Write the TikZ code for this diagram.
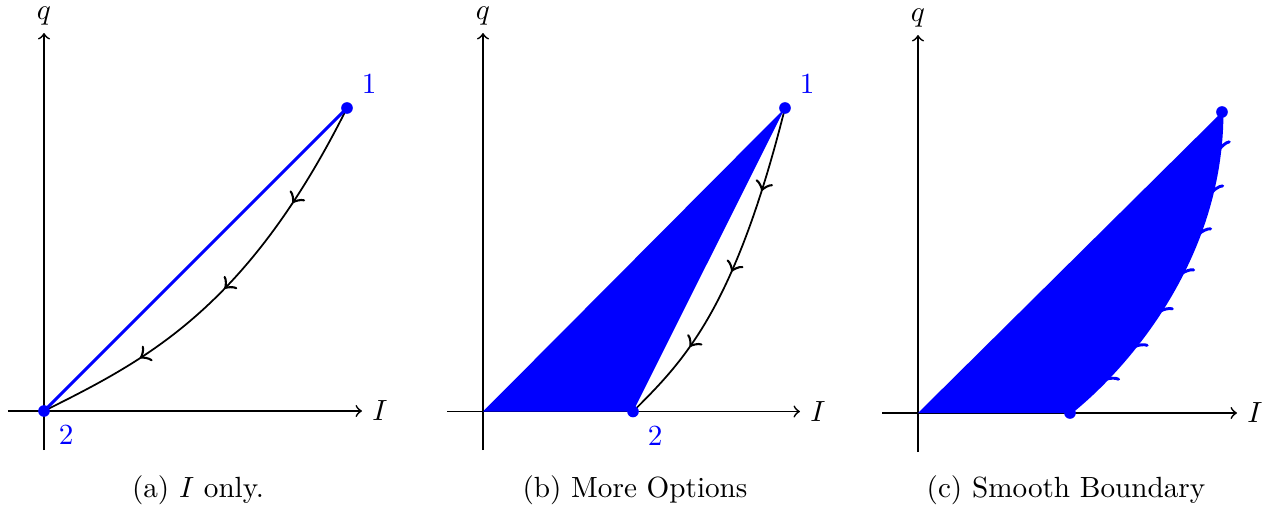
\documentclass[tikz,border=0pt]{standalone}
\usetikzlibrary{decorations.markings}
\begin{document}
\begin{tikzpicture}[x=0.3425pt,y=-0.3425pt,
  axis/.style={->, line width=0.6pt},
  flow/.style={line width=0.6pt, postaction={decorate},
    decoration={markings,
      mark=at position 0.25 with {\arrow[scale=1.5]{>}},
      mark=at position 0.5 with {\arrow[scale=1.5]{>}},
      mark=at position 0.75 with {\arrow[scale=1.5]{>}}}},
  bflow/.style={blue, line width=1pt, postaction={decorate},
    decoration={markings,
      mark=between positions 0.11 and 0.87 step 0.125 with {\arrow[scale=1.25]{>}}}},
  dot/.style={circle, fill=blue, inner sep=0pt, minimum size=4pt},
  lbl/.style={text=blue}]
\useasboundingbox (0,0) rectangle (1276,508);

% ---------- (a) ----------
\coordinate (axl) at (8,411);   \coordinate (axr) at (362,411);
\coordinate (ayb) at (44,450);  \coordinate (ayt) at (44,33);
\draw[axis] (axl) -- (axr);
\draw[axis] (ayb) -- (ayt);
\node[anchor=base] (aq) at (44,19) {$q$};
\node[right] (aI) at (axr) {$I$};
\coordinate (a1) at (347,108);
\coordinate (a2) at (44,411);
\draw[flow] (a1) .. controls (246,310) and (145,360.5) .. (a2);
\draw[blue, line width=1pt] (a2) -- (a1);
\node[dot, label={[lbl]above right:$1$}] (a1d) at (a1) {};
\node[dot, label={[lbl]below right:$2$}] (a2d) at (a2) {};
\node[anchor=base] (acap) at (198,497) {(a) $I$ only.};

% ---------- (b) ----------
\coordinate (bxl) at (447,411.5); \coordinate (bxr) at (800,411.5);
\coordinate (byb) at (483,450);   \coordinate (byt) at (483,33);
\draw[axis] (bxl) -- (bxr);
\draw[axis] (byb) -- (byt);
\node[anchor=base] (bq) at (483,19) {$q$};
\node[right] (bI) at (bxr) {$I$};
\coordinate (bO) at (483,411.5);
\coordinate (b1) at (785,108);
\coordinate (b2) at (633,411.5);
\fill[blue] (bO) -- (b1) -- (b2) -- cycle;
\draw[flow] (b1) .. controls (734.3,310.3) and (683.7,360.9) .. (b2);
\node[dot, label={[lbl]above right:$1$}] (b1d) at (b1) {};
\node[dot, label={[lbl]below right:$2$}] (b2d) at (b2) {};
\node[anchor=base] (bcap) at (635,497) {(b) More Options};

% ---------- (c) ----------
\coordinate (cxl) at (882,413);  \coordinate (cxr) at (1237,413);
\coordinate (cyb) at (918,452);  \coordinate (cyt) at (918,35);
\draw[axis] (cxl) -- (cxr);
\draw[axis] (cyb) -- (cyt);
\node[anchor=base] (cq) at (918,21) {$q$};
\node[right] (cI) at (cxr) {$I$};
\coordinate (cO) at (918,413);
\coordinate (c1) at (1222,112);
\coordinate (c2) at (1070,413);
\draw[bflow] (c1) .. controls (1222,262) and (1123,371) .. (c2);
\fill[blue] (cO) -- (c1) .. controls (1222,262) and (1123,371) .. (c2) -- cycle;
\node[dot] (c1d) at (c1) {};
\node[dot] (c2d) at (c2) {};
\node[anchor=base] (ccap) at (1066,497) {(c) Smooth Boundary};
\end{tikzpicture}
\end{document}
